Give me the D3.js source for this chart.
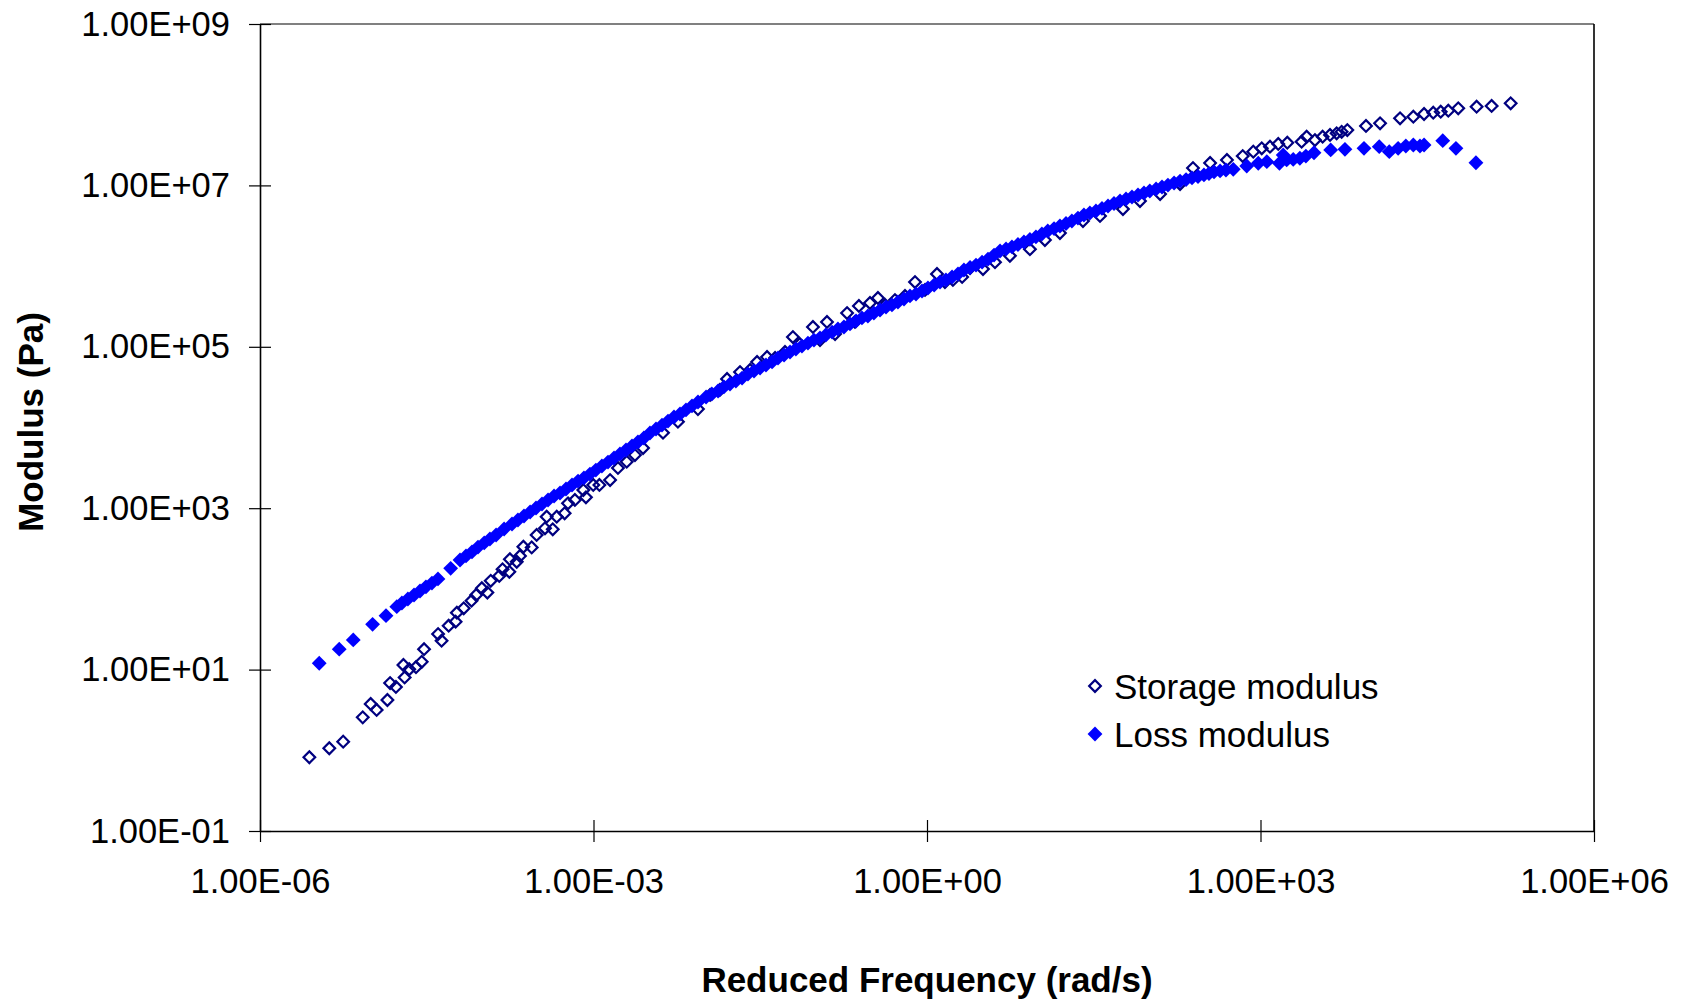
<!DOCTYPE html>
<html>
<head>
<meta charset="utf-8">
<script src="https://cdn.jsdelivr.net/npm/d3@7"></script>
<style>
    body { margin: 0; background: #fff; }
    text { font-family: "Liberation Sans", Arial, sans-serif; }
</style>
</head>
<body>
<svg id="chart" width="1690" height="1005"></svg>
<script>
// Ticks of the two log axes
var xTicks = [1e-6, 1e-3, 1e0, 1e3, 1e6];
var xTickLabels = ["1.00E-06", "1.00E-03", "1.00E+00", "1.00E+03", "1.00E+06"];
var yTicks = [1e-1, 1e1, 1e3, 1e5, 1e7, 1e9];
var yTickLabels = ["1.00E-01", "1.00E+01", "1.00E+03", "1.00E+05", "1.00E+07", "1.00E+09"];

var seriesNames = ["Storage modulus", "Loss modulus"];

// Storage modulus (open diamonds): reduced frequency (rad/s) and modulus (Pa)
var storageFreq = [
    2.78e-6, 4.2e-6, 5.6e-6, 8.4e-6, 9.9e-6, 1.12e-5, 1.40e-5, 1.48e-5, 1.67e-5, 1.95e-5,
    2.0e-5, 2.2e-5, 2.53e-5, 2.85e-5, 2.99e-5, 4.0e-5, 4.3e-5, 4.98e-5, 5.75e-5, 5.9e-5,
    6.8e-5, 8.0e-5, 8.8e-5, 9.9e-5, 1.11e-4, 1.19e-4, 1.42e-4, 1.52e-4, 1.75e-4, 1.77e-4,
    2.04e-4, 2.18e-4, 2.34e-4, 2.78e-4, 3.08e-4, 3.66e-4, 3.79e-4, 4.3e-4, 4.67e-4, 5.5e-4,
    5.9e-4, 6.8e-4, 8.1e-4, 8.55e-4, 9.95e-4, 1.13e-3, 1.41e-3, 1.66e-3, 1.99e-3, 2.36e-3,
    2.79e-3, 4.22e-3, 5.75e-3, 8.7e-3,
    1.12e-2, 1.37e-2, 1.59e-2, 2.08e-2, 2.56e-2, 2.96e-2, 3.64e-2, 4.30e-2, 5.28e-2, 6.22e-2,
    7.19e-2, 9.42e-2, 0.109, 0.126, 0.149, 0.191, 0.225, 0.244, 0.307, 0.362,
    0.419, 0.515, 0.634, 0.780, 0.96, 1.23, 1.45, 1.71, 2.07, 2.44,
    3.19, 4.09, 5.57, 8.43, 11.5, 15.7, 25.3, 36.0, 57.9, 82.4,
    125, 189, 247, 352, 499, 692, 861, 1026, 1217, 1445,
    1742, 2344, 2600, 3090, 3620, 4220, 4840, 5370, 6040, 8890,
    11900, 18000, 23700, 29600, 35800, 41800, 48900, 60100, 87900, 120000,
    178000
];
var storageModulus = [
    0.82, 1.06, 1.28, 2.56, 3.75, 3.16, 4.2, 6.8, 6.1, 11.4,
    8.0, 10.1, 10.7, 12.5, 17.9, 27.6, 22.8, 35, 39.3, 50.7,
    57.5, 71.5, 84, 102, 90, 126, 145, 175, 163, 233,
    217, 256, 333, 327, 466, 564, 785, 548, 785, 865,
    1150, 1265, 1680, 1365, 1940, 1940, 2230, 3150, 3770, 4560,
    5570, 8630, 11800, 16900,
    25300, 29200, 39900, 48700, 51600, 64900, 74800, 72700, 86200, 132000,
    108000, 176000, 121000, 203000, 144000, 262000, 203000, 321000, 349000, 403000,
    330000, 380000, 427000, 635000, 506000, 798000, 635000, 673000, 733000, 946000,
    9.2e5, 1.12e6, 1.34e6, 1.62e6, 2.1e6, 2.57e6, 3.62e6, 4.19e6, 5.1e6, 6.4e6,
    7.82e6, 1.04e7, 1.64e7, 1.90e7, 2.07e7, 2.31e7, 2.62e7, 2.88e7, 3.02e7, 3.26e7,
    3.38e7, 3.48e7, 4.01e7, 3.65e7, 4.01e7, 4.22e7, 4.42e7, 4.62e7, 4.85e7, 5.45e7,
    5.88e7, 6.78e7, 7.10e7, 7.67e7, 7.96e7, 8.19e7, 8.43e7, 9.02e7, 9.45e7, 9.64e7,
    1.04e8
];

// Loss modulus (filled diamonds)
var lossFreq = [
    3.41e-6, 5.16e-6, 6.90e-6, 1.03e-5, 1.36e-5, 1.70e-5, 1.89e-5, 2.14e-5, 2.43e-5, 2.75e-5,
    3.11e-5, 3.52e-5, 3.99e-5, 5.19e-5, 6.30e-5, 7.13e-5, 8.07e-5, 9.14e-5, 1.04e-4, 1.17e-4,
    1.33e-4, 1.57e-4, 1.85e-4, 2.09e-4, 2.37e-4, 2.69e-4, 3.04e-4, 3.44e-4, 3.90e-4, 4.42e-4,
    5.00e-4, 5.66e-4, 6.41e-4, 7.26e-4, 8.20e-4, 9.29e-4, 1.05e-3, 1.19e-3, 1.35e-3, 1.53e-3,
    1.73e-3, 1.96e-3, 2.22e-3, 2.51e-3, 2.84e-3, 3.22e-3, 3.65e-3, 4.13e-3, 4.68e-3, 5.30e-3,
    6.00e-3, 6.79e-3, 7.69e-3, 8.71e-3, 1.03e-2, 1.16e-2, 1.32e-2, 1.49e-2, 1.69e-2, 1.91e-2,
    2.17e-2, 2.45e-2, 2.78e-2, 3.15e-2, 3.56e-2, 4.04e-2, 4.57e-2, 5.18e-2, 5.86e-2, 6.62e-2,
    7.50e-2, 8.49e-2, 9.62e-2, 0.109, 0.123, 0.140, 0.158, 0.179, 0.203, 0.230,
    0.260, 0.294, 0.333, 0.378, 0.428, 0.484, 0.548, 0.621, 0.703, 0.796,
    0.902, 1.02, 1.16, 1.31, 1.48, 1.68, 1.90, 2.15, 2.44, 2.76,
    3.13, 3.54, 4.01, 4.54, 5.14, 5.81, 6.58, 7.45, 8.43, 9.55,
    10.8, 12.2, 13.9, 15.7, 17.8, 20.1, 22.8, 25.8, 29.2, 33.1,
    37.5, 42.5, 48.1, 54.5, 61.7, 69.8, 79.1, 89.5, 101, 115,
    130, 147, 167, 189, 214, 242, 274, 310, 344, 382,
    433, 489,
    569, 752, 955, 1140, 1480, 1600, 1720, 1970, 2260, 2560,
    3030, 4280, 5750, 8530, 11700, 14400, 17300, 20300, 23700, 27200,
    29600, 43600, 57300, 86700
];
var lossModulus = [
    12.0, 17.9, 23.3, 36.4, 46.6, 60.3, 66.8, 75.0, 84.0, 94.2,
    106, 118, 133, 180, 228, 256, 287, 330, 371, 415,
    466, 552, 637, 714, 800, 897, 1005, 1127, 1265, 1416,
    1542, 1730, 1940, 2170, 2370, 2650, 2970, 3330, 3730, 4190,
    4700, 5260, 5900, 6610, 7410, 8550, 9580, 10700, 12000, 13500,
    14700, 16500, 18500, 20700, 23900, 26000, 28300, 31800, 34600, 37700,
    41000, 46000, 50100, 54600, 59500, 64900, 72700, 79100, 86200, 94000,
    102000, 111000, 121000, 129000, 140000, 152000, 166000, 176000, 192000, 209000,
    228000, 241000, 262000, 286000, 311000, 330000, 359000, 391000, 427000, 451000,
    491000, 535000, 583000, 635000, 673000, 733000, 798000, 895000, 9.61e5, 1.03e6,
    1.12e6, 1.22e6, 1.37e6, 1.54e6, 1.63e6, 1.73e6, 1.85e6, 1.99e6, 2.14e6, 2.30e6,
    2.50e6, 2.72e6, 2.92e6, 3.14e6, 3.37e6, 3.62e6, 3.94e6, 4.30e6, 4.55e6, 4.82e6,
    5.18e6, 5.56e6, 5.97e6, 6.41e6, 6.78e6, 7.18e6, 7.60e6, 8.05e6, 8.53e6, 9.02e6,
    9.55e6, 1.01e7, 1.07e7, 1.13e7, 1.18e7, 1.24e7, 1.29e7, 1.35e7, 1.40e7, 1.47e7,
    1.51e7, 1.55e7,
    1.58e7, 1.74e7, 1.88e7, 1.97e7, 1.88e7, 2.38e7, 2.07e7, 2.10e7, 2.17e7, 2.31e7,
    2.54e7, 2.75e7, 2.80e7, 2.88e7, 3.02e7, 2.62e7, 2.88e7, 3.08e7, 3.17e7, 3.08e7,
    3.17e7, 3.58e7, 2.88e7, 1.91e7
];

/** Plot area in page pixels */
var plot = { left: 260, right: 1594, top: 24, bottom: 831 };
var tick = 11;

var svg = d3.select('#chart');

var x = d3.scaleLog()
    .domain([1e-6, 1e6])
    .range([plot.left, plot.right]);
var y = d3.scaleLog()
    .domain([1e-1, 1e9])
    .range([plot.bottom, plot.top]);

// plot area border: grey top, black right
svg.append('line')
    .attr('x1', plot.left).attr('x2', plot.right)
    .attr('y1', plot.top).attr('y2', plot.top)
    .attr('stroke', '#808080').attr('stroke-width', 2);
svg.append('line')
    .attr('x1', plot.right).attr('x2', plot.right)
    .attr('y1', plot.top).attr('y2', plot.bottom)
    .attr('stroke', '#000').attr('stroke-width', 1.6);

// Y axis, ticks cross the axis line
var yAxis = svg.append('g')
    .attr('transform', 'translate(' + plot.left + ',0)')
    .call(d3.axisLeft(y)
        .tickValues(yTicks)
        .tickFormat(function (d, i) { return yTickLabels[i]; })
        .tickSizeInner(tick)
        .tickSizeOuter(0)
        .tickPadding(19));
yAxis.selectAll('.tick line').attr('x1', tick).attr('stroke-width', 1.2);

// X axis
var xAxis = svg.append('g')
    .attr('transform', 'translate(0,' + plot.bottom + ')')
    .call(d3.axisBottom(x)
        .tickValues(xTicks)
        .tickFormat(function (d, i) { return xTickLabels[i]; })
        .tickSizeInner(tick)
        .tickSizeOuter(0)
        .tickPadding(27));
xAxis.selectAll('.tick line').attr('y1', -tick).attr('stroke-width', 1.2);

svg.selectAll('.domain').attr('stroke', '#000').attr('stroke-width', 1.6);
svg.selectAll('.tick text')
    .attr('fill', '#000')
    .style('font-size', '34.5px')
    .style('font-family', '"Liberation Sans", Arial, sans-serif');

// Axis titles
svg.append('text')
    .attr('x', (plot.left + plot.right) / 2)
    .attr('y', 992)
    .attr('text-anchor', 'middle')
    .style('font-size', '35px')
    .style('font-weight', 'bold')
    .text('Reduced Frequency (rad/s)');

svg.append('text')
    .attr('transform', 'translate(43,422) rotate(-90)')
    .attr('text-anchor', 'middle')
    .style('font-size', '35px')
    .style('font-weight', 'bold')
    .text('Modulus (Pa)');

// Markers: squares turned 45 degrees
var openDiamond = d3.symbol().type(d3.symbolSquare).size(68)();
var fullDiamond = d3.symbol().type(d3.symbolSquare).size(110)();

var storage = storageFreq.map(function (f, i) { return { f: f, g: storageModulus[i] }; });
var loss = lossFreq.map(function (f, i) { return { f: f, g: lossModulus[i] }; });

svg.append('g')
    .selectAll('path')
    .data(storage)
    .enter()
    .append('path')
    .attr('d', openDiamond)
    .attr('transform', function (d) { return 'translate(' + x(d.f) + ',' + y(d.g) + ') rotate(45)'; })
    .attr('fill', 'none')
    .attr('stroke', '#000080')
    .attr('stroke-width', 2.2);

svg.append('g')
    .selectAll('path')
    .data(loss)
    .enter()
    .append('path')
    .attr('d', fullDiamond)
    .attr('transform', function (d) { return 'translate(' + x(d.f) + ',' + y(d.g) + ') rotate(45)'; })
    .attr('fill', '#0000ff');

// Legend
var legend = svg.append('g').attr('transform', 'translate(1095,686)');
var rows = legend.selectAll('g')
    .data(seriesNames)
    .enter()
    .append('g')
    .attr('transform', function (d, i) { return 'translate(0,' + i * 48 + ')'; });

rows.append('path')
    .attr('d', function (d, i) { return i == 0 ? openDiamond : fullDiamond; })
    .attr('transform', 'rotate(45)')
    .attr('fill', function (d, i) { return i == 0 ? 'none' : '#0000ff'; })
    .attr('stroke', function (d, i) { return i == 0 ? '#000080' : 'none'; })
    .attr('stroke-width', 2.2);

rows.append('text')
    .attr('x', 19)
    .attr('y', 13)
    .style('font-size', '35px')
    .text(function (d) { return d; });
</script>
</body>
</html>
